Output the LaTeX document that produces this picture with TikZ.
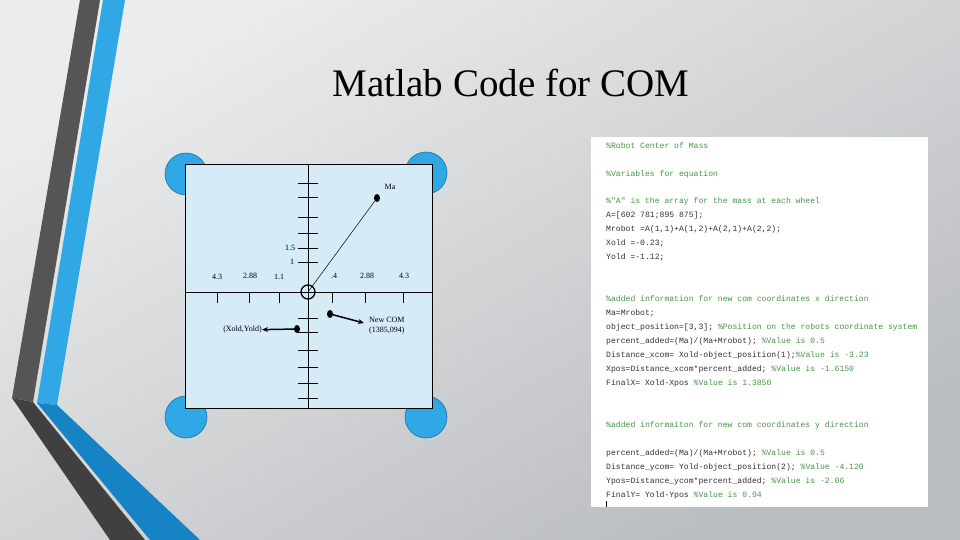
\documentclass[tikz,border=0pt]{standalone}
\usepackage{fontspec}
\setmainfont{Liberation Serif}
\setmonofont{Liberation Mono}
\usetikzlibrary{arrows.meta,shapes.geometric}
\definecolor{bgA}{RGB}{234,236,237}
\definecolor{bgB}{RGB}{186,189,191}
\definecolor{dgray}{RGB}{85,85,85}
\definecolor{dgray2}{RGB}{64,64,64}
\definecolor{sblue}{RGB}{48,168,230}
\definecolor{sblue2}{RGB}{22,132,196}
\definecolor{boxfill}{RGB}{214,235,248}
\definecolor{wheel}{RGB}{48,168,230}
\definecolor{wheeld}{RGB}{30,110,170}
\definecolor{cmt}{RGB}{70,150,70}
\definecolor{codec}{RGB}{50,50,50}
\tikzset{
  ax/.style={black, line width=0.8pt},
  tk/.style={black, line width=0.8pt},
  lbl/.style={font=\fontsize{8}{9}\selectfont, inner sep=0pt},
  dot/.style={ellipse, fill=black, minimum width=6pt, minimum height=8pt, inner sep=0pt},
  arr/.style={line width=1.5pt, -{Stealth[length=6pt,width=5pt]}},
  codeline/.style={anchor=west, inner sep=0pt, font=\ttfamily\fontsize{8.1}{9}\selectfont, text=codec},
  cmtline/.style={codeline, text=cmt},
}
\begin{document}
\begin{tikzpicture}[x=1pt,y=-1pt]
\useasboundingbox (0,0) rectangle (960,540);
\shade[bottom color=bgB, top color=bgA, shading angle=30] (0,0) rectangle (960,540);
% stripes
\fill[dgray] (80,0) -- (100,0) -- (33,402) -- (12,398) -- cycle;
\fill[dgray2] (12,398) -- (33,402) -- (145,540) -- (110,540) -- cycle;
\fill[sblue] (103,0) -- (125,0) -- (57,405) -- (37,403) -- cycle;
\fill[sblue2] (37,403) -- (57,405) -- (200,540) -- (150,540) -- cycle;
% title
\node[font=\fontsize{39}{42}\selectfont] (title) at (511,83) {Matlab Code for COM};
% wheels
\foreach \n/\x/\y in {wa/186/174, wb/426/173, wc/186/417, wd/426/417}
  \node[circle, fill=wheel, draw=wheeld, line width=0.6pt, minimum size=42pt, inner sep=0pt] (\n) at (\x,\y) {};
% box
\draw[fill=boxfill, line width=1pt] (185,165) rectangle (432,408);
\coordinate (vt) at (308,165); \coordinate (vb) at (308,408);
\coordinate (hl) at (185,292); \coordinate (hr) at (432,292);
\draw[ax] (vt) -- (vb);
\draw[ax] (hl) -- (hr);
\foreach \y in {183,197,217,233,248,262,318,332,350,367,383,398}
  \draw[tk] (298,\y) -- (318,\y);
\foreach \x in {217,249,279,332,365,403}
  \draw[tk] (\x,292) -- (\x,303);
\node[lbl] (l15) at (290,248) {1.5};
\node[lbl] (l1) at (292,262) {1};
\node[lbl] (x1) at (217,277) {4.3};
\node[lbl] (x2) at (250,276) {2.88};
\node[lbl] (x3) at (279,277) {1.1};
\node[lbl] (x4) at (334,276) {.4};
\node[lbl] (x5) at (367,276) {2.88};
\node[lbl] (x6) at (404,276) {4.3};
\node[circle, draw, line width=1.3pt, minimum size=14pt, inner sep=0pt] (com) at (308,292) {};
\node[dot] (ma) at (377,198) {};
\draw[line width=0.5pt] (com.center) -- (ma);
\node[lbl] (malbl) at (390,187) {Ma};
\node[dot] (old) at (297,329) {};
\node[lbl, anchor=east] (oldlbl) at (262,330) {(Xold,Yold)};
\draw[arr] (old) -- (oldlbl);
\node[dot] (new) at (330,314) {};
\node[lbl, align=left, anchor=west] (newlbl) at (369,326) {New COM\\[1pt](1385,094)};
\coordinate (newend) at (364,323);
\draw[arr] (new) -- (newend);
% code panel
\fill[white] (591,137) rectangle (928,507);
\node[cmtline] (c1) at (606,146) {\%Robot Center of Mass};
\node[cmtline] (c2) at (606,174) {\%Variables for equation};
\node[cmtline] (c3) at (606,201) {\%"A" is the array for the mass at each wheel};
\node[codeline] (c4) at (606,215) {A=[602 781;895 875];};
\node[codeline] (c5) at (606,229) {Mrobot =A(1,1)+A(1,2)+A(2,1)+A(2,2);};
\node[codeline] (c6) at (606,243) {Xold =-0.23;};
\node[codeline] (c7) at (606,257) {Yold =-1.12;};
\node[cmtline] (c8) at (606,299) {\%added information for new com coordinates x direction};
\node[codeline] (c9) at (606,313) {Ma=Mrobot;};
\node[codeline] (c10) at (606,327) {object\_position=[3,3]; \textcolor{cmt}{\%Position on the robots coordinate system}};
\node[codeline] (c11) at (606,341) {percent\_added=(Ma)/(Ma+Mrobot); \textcolor{cmt}{\%Value is 0.5}};
\node[codeline] (c12) at (606,355) {Distance\_xcom= Xold-object\_position(1);\textcolor{cmt}{\%Value is -3.23}};
\node[codeline] (c13) at (606,369) {Xpos=Distance\_xcom*percent\_added; \textcolor{cmt}{\%Value is -1.6150}};
\node[codeline] (c14) at (606,383) {FinalX= Xold-Xpos \textcolor{cmt}{\%Value is 1.3850}};
\node[cmtline] (c15) at (606,425) {\%added informaiton for new com coordinates y direction};
\node[codeline] (c16) at (606,453) {percent\_added=(Ma)/(Ma+Mrobot); \textcolor{cmt}{\%Value is 0.5}};
\node[codeline] (c17) at (606,467) {Distance\_ycom= Yold-object\_position(2); \textcolor{cmt}{\%Value -4.120}};
\node[codeline] (c18) at (606,481) {Ypos=Distance\_ycom*percent\_added; \textcolor{cmt}{\%Value is -2.06}};
\node[codeline] (c19) at (606,495) {FinalY= Yold-Ypos \textcolor{cmt}{\%Value is 0.94}};
\draw[line width=0.5pt] (606,501) -- (606,507);
\end{tikzpicture}
\end{document}
